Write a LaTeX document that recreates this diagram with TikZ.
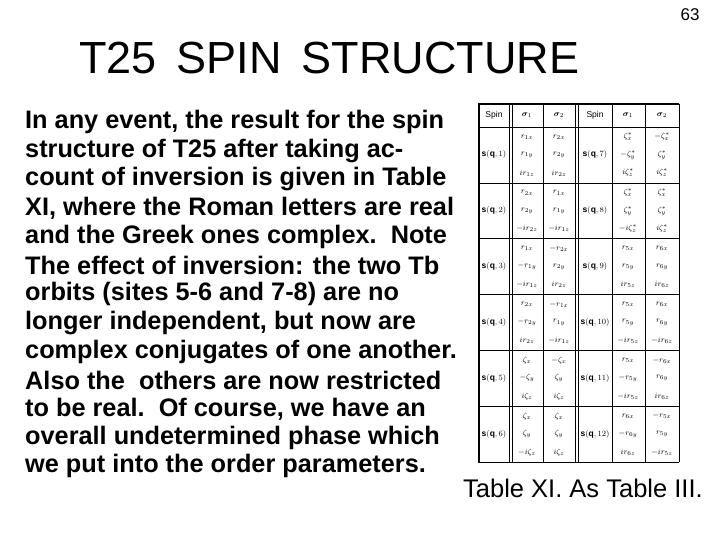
\documentclass[tikz,border=0pt]{standalone}
\usepackage{amsmath,amssymb}
\usepackage{fontspec}
\setmainfont{Liberation Sans}
\begin{document}
\begin{tikzpicture}[x=1pt,y=-1pt,
  body/.style={anchor=west,font=\bfseries\fontsize{25.3}{26}\selectfont,inner sep=0},
  cell/.style={font=\fontsize{8.5}{9}\selectfont,inner sep=0},
  tl/.style={line width=0.4pt}]
\useasboundingbox (0,0) rectangle (720,540);
\node[anchor=east,font=\fontsize{17}{17}\selectfont] (pg) at (703,15) {63};
\node[anchor=west,font=\fontsize{45}{45}\selectfont,inner sep=0] (title) at (79,58) {T25\,\ SPIN\,\ STRUCTURE};
\foreach \t [count=\i from 0] in {
 {In any event, the result for the spin},
 {structure of T25 after taking ac-},
 {count of inversion is given in Table},
 {XI, where the Roman letters are real},
 {and the Greek ones complex.\ \ Note},
 {The effect of inversion: the two Tb},
 {orbits (sites 5-6 and 7-8) are no},
 {longer independent, but now are},
 {complex conjugates of one another.},
 {Also the\ \ others are now restricted},
 {to be real.\ \ Of course, we have an},
 {overall undetermined phase which},
 {we put into the order parameters.}}
 \node[body] (l\i) at (25,{122+28.7*\i}) {\t};
% table
\draw[line width=1.6pt] (478,104) -- (679,104);
\draw[line width=2.5pt] (479,104) -- (479,462);
\draw[tl] (478,462) -- (679,462) (679,104) -- (679,462);
\draw[tl] (478,127) -- (679,127);
\foreach \b in {1,...,5} \draw[tl] (478,{127+55.8*\b}) -- (679,{127+55.8*\b});
\foreach \x in {509.5,512,575.5,578} \draw[tl] (\x,104) -- (\x,462);
\draw[tl] (543,104) -- (543,462) (645,104) -- (645,462) (612,104) -- (612,462);
\node[cell] (h1) at (494,115) {Spin};
\node[cell] (h2) at (527,115) {$\boldsymbol\sigma_1$};
\node[cell] (h3) at (559,115) {$\boldsymbol\sigma_2$};
\node[cell] (h4) at (595,115) {Spin};
\node[cell] (h5) at (628,115) {$\boldsymbol\sigma_1$};
\node[cell] (h6) at (662,115) {$\boldsymbol\sigma_2$};
\foreach \b/\sa/\sb/\aa/\ab/\ba/\bb/\ca/\cb/\da/\db/\ea/\eb/\fa/\fb in {
 0/1/7/r_{1x}/r_{2x}/r_{1y}/r_{2y}/ir_{1z}/ir_{2z}/\zeta_x^*/-\zeta_x^*/-\zeta_y^*/\zeta_y^*/i\zeta_z^*/i\zeta_z^*,
 1/2/8/r_{2x}/r_{1x}/r_{2y}/r_{1y}/-ir_{2z}/-ir_{1z}/\zeta_x^*/\zeta_x^*/\zeta_y^*/\zeta_y^*/-i\zeta_z^*/i\zeta_z^*,
 2/3/9/r_{1x}/-r_{2x}/-r_{1y}/r_{2y}/-ir_{1z}/ir_{2z}/r_{5x}/r_{6x}/r_{5y}/r_{6y}/ir_{5z}/ir_{6z},
 3/4/10/r_{2x}/-r_{1x}/-r_{2y}/r_{1y}/ir_{2z}/-ir_{1z}/r_{5x}/r_{6x}/r_{5y}/r_{6y}/-ir_{5z}/-ir_{6z},
 4/5/11/\zeta_x/-\zeta_x/-\zeta_y/\zeta_y/i\zeta_z/i\zeta_z/r_{5x}/-r_{6x}/-r_{5y}/r_{6y}/-ir_{5z}/ir_{6z},
 5/6/12/\zeta_x/\zeta_x/\zeta_y/\zeta_y/-i\zeta_z/i\zeta_z/r_{6x}/-r_{5x}/-r_{6y}/r_{5y}/ir_{6z}/-ir_{5z}}
{
 \pgfmathsetmacro\yt{127+55.8*\b}
 \node[cell] (s\b) at (494,\yt+28) {$\mathbf s(\mathbf q,\sa)$};
 \node[cell] (t\b) at (595,\yt+28) {$\mathbf s(\mathbf q,\sb)$};
 \node[cell] (a\b) at (527,\yt+10) {$\aa$};
 \node[cell] (b\b) at (559,\yt+10) {$\ab$};
 \node[cell] (c\b) at (527,\yt+28) {$\ba$};
 \node[cell] (d\b) at (559,\yt+28) {$\bb$};
 \node[cell] (e\b) at (527,\yt+46) {$\ca$};
 \node[cell] (f\b) at (559,\yt+46) {$\cb$};
 \node[cell] (g\b) at (628,\yt+10) {$\da$};
 \node[cell] (i\b) at (662,\yt+10) {$\db$};
 \node[cell] (j\b) at (628,\yt+28) {$\ea$};
 \node[cell] (k\b) at (662,\yt+28) {$\eb$};
 \node[cell] (m\b) at (628,\yt+46) {$\fa$};
 \node[cell] (n\b) at (662,\yt+46) {$\fb$};
}
\node[anchor=west,inner sep=0,font=\fontsize{25.5}{26}\selectfont] (cap) at (463,488) {Table XI. As Table III.};
\end{tikzpicture}
\end{document}
